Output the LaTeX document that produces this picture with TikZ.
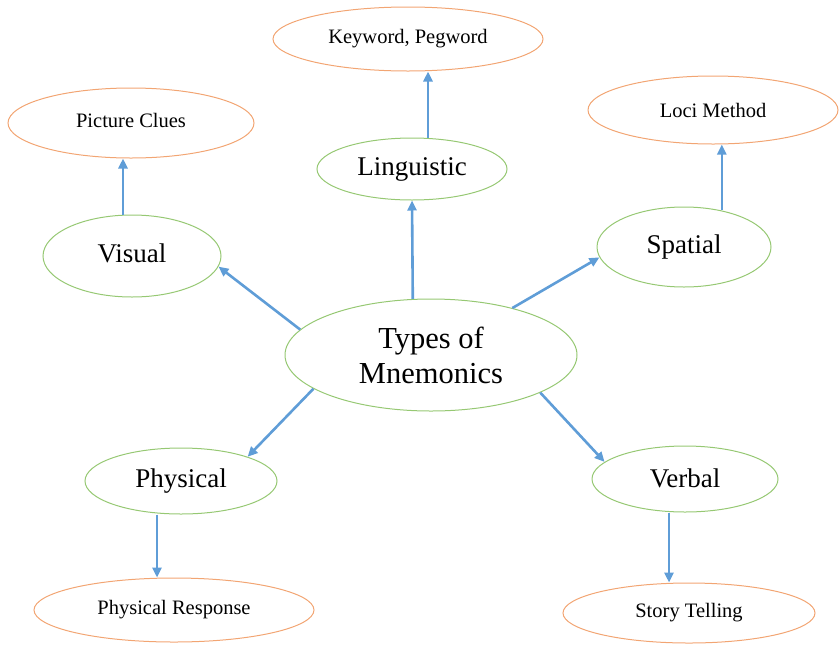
\documentclass[tikz,border=0pt]{standalone}
\usepackage{fontspec}
\setmainfont{Liberation Serif}
\usetikzlibrary{shapes.geometric,arrows.meta}
\definecolor{grn}{RGB}{150,200,115}
\definecolor{org}{RGB}{242,165,115}
\definecolor{arrblue}{RGB}{95,157,215}
\tikzset{
  ell/.style={ellipse,draw,line width=1pt,inner sep=0pt},
  mainell/.style={ell,draw=grn,align=center,font=\fontsize{30.5}{35}\selectfont},
  catell/.style={ell,draw=grn,font=\fontsize{27}{32}\selectfont},
  leafell/.style={ell,draw=org,font=\fontsize{20.5}{24}\selectfont},
  arr/.style={draw=arrblue,line width=2.6pt,-{Triangle[length=10pt,width=9pt]}}
}
\begin{document}
\begin{tikzpicture}[x=1pt,y=-1pt]
\useasboundingbox (0,0) rectangle (840,646);
\node[mainell,minimum width=292,minimum height=112] (types) at (431,355) {Types of\\Mnemonics};
\node[catell,minimum width=178,minimum height=82] (visual) at (132,256) {\raisebox{6pt}{Visual}};
\node[catell,minimum width=190,minimum height=62] (ling) at (412,169) {\raisebox{-3pt}{Linguistic}};
\node[catell,minimum width=174,minimum height=80] (spatial) at (684,247) {\raisebox{-2pt}{Spatial}};
\node[catell,minimum width=192,minimum height=66] (phys) at (181,481) {\raisebox{-3pt}{Physical}};
\node[catell,minimum width=186,minimum height=66] (verbal) at (685,479) {\raisebox{2pt}{Verbal}};
\node[leafell,minimum width=270,minimum height=64] (kw) at (408,39) {Keyword, Pegword};
\node[leafell,minimum width=246,minimum height=70] (pic) at (131,123) {\raisebox{6pt}{Picture Clues}};
\node[leafell,minimum width=250,minimum height=68] (loci) at (713,110) {Loci Method};
\node[leafell,minimum width=280,minimum height=64] (presp) at (174,610) {\raisebox{-3pt}{Physical Response}};
\node[leafell,minimum width=252,minimum height=60] (story) at (689,613) {Story Telling};

\draw[arr] (types.169.3) -- (visual.-7.9);
\draw[arr] (types.108.1) -- (ling.-90);
\draw[arr] (types.30.1) -- (spatial.187.2);
\draw[arr] (types.196.7) -- (phys.20.3);
\draw[arr] (types.-19) -- (verbal.168.7);

\draw[arr] ([xshift=-9]visual.north) -- ([xshift=-9]visual.north |- pic.south);
\draw[arr] ([xshift=16]ling.north) -- ([xshift=16]ling.north |- kw.south);
\draw[arr] (spatial.44) -- (spatial.44 |- loci.south);
\draw[arr] ([xshift=-24]phys.south) -- ([xshift=-24]phys.south |- presp.north);
\draw[arr] ([xshift=-16]verbal.south) -- ([xshift=-16]verbal.south |- story.north);
\end{tikzpicture}
\end{document}
